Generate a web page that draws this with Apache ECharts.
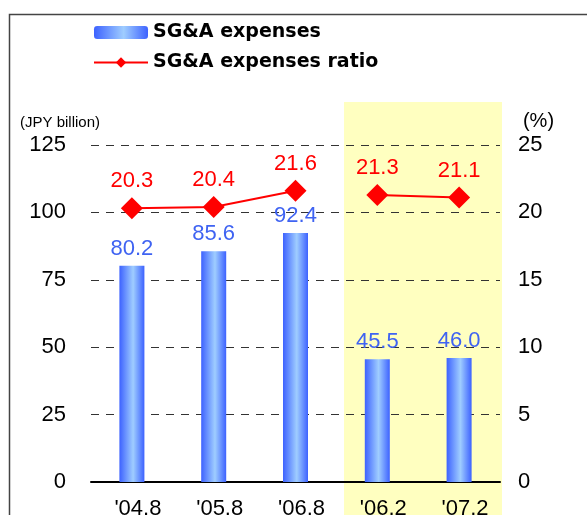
<!DOCTYPE html>
<html>
<head>
<meta charset="utf-8">
<script src="https://cdn.jsdelivr.net/npm/echarts@6/dist/echarts.min.js"></script>
<style>
  html, body { margin: 0; padding: 0; background: #fff; }
  #chart { width: 587px; height: 515px; }
</style>
</head>
<body>
<div id="chart"></div>
<script>
// 販管費・販管費率
var periods = ["'04.8", "'05.8", "'06.8", "'06.2", "'07.2"];
var sgaExpenses = [80.2, 85.6, 92.4, 45.5, 46.0];
var ratioAnnual = [20.3, 20.4, 21.6, "-", "-"];
var ratioHalf = ["-", "-", "-", 21.3, 21.1];
var leftTicks = [0, 125, 25];
var rightTicks = [0, 25, 5];

var narrow = "'Liberation Sans Narrow', 'Liberation Sans', sans-serif";

var chart = echarts.init(document.getElementById("chart"));

var barColor = new echarts.graphic.LinearGradient(0, 0, 1, 0, [
  { offset: 0, color: "#3d62ff" },
  { offset: 0.55, color: "#9fcdff" },
  { offset: 1, color: "#3d62ff" }
]);

var ratioLabel = {
  show: true,
  position: "top",
  distance: 5,
  color: "#ff0000",
  fontSize: 22,
  fontFamily: narrow,
  formatter: function (p) { return p.value.toFixed(1); }
};

var option = {
  backgroundColor: "#fff",
  animation: false,
  graphic: [
    {
      type: "rect",
      z: -10,
      shape: { x: 344, y: 102, width: 158, height: 420 },
      style: { fill: "#ffffc0" }
    },
    {
      type: "rect",
      z: -10,
      shape: { x: 9.5, y: 14.5, width: 620, height: 620 },
      style: { fill: "none", stroke: "#444", lineWidth: 1.5 }
    }
  ],
  legend: {
    orient: "vertical",
    left: 93,
    top: 23,
    padding: 0,
    itemWidth: 54,
    itemHeight: 13,
    itemGap: 11,
    textStyle: {
      fontSize: 19,
      fontWeight: "bold",
      color: "#000",
      fontFamily: "'DejaVu Sans', sans-serif"
    },
    data: ["SG&A expenses", "SG&A expenses ratio"]
  },
  grid: { left: 91, right: 87, top: 145, bottom: 33, outerBoundsMode: "none" },
  xAxis: {
    type: "category",
    data: periods,
    axisLine: { lineStyle: { color: "#000", width: 2 } },
    axisTick: { show: false },
    axisLabel: {
      color: "#000",
      fontSize: 22,
      fontFamily: narrow,
      margin: 16,
      padding: [0, 0, 0, 12]
    }
  },
  yAxis: [
    {
      type: "value",
      min: leftTicks[0],
      max: leftTicks[1],
      interval: leftTicks[2],
      name: "(JPY billion)",
      nameLocation: "end",
      nameGap: 15,
      nameTextStyle: {
        color: "#000",
        fontSize: 15,
        fontFamily: narrow,
        padding: [0, 62, 0, 0]
      },
      axisLine: { show: false },
      axisTick: { show: false },
      axisLabel: { color: "#000", fontSize: 22, fontFamily: narrow, margin: 25 },
      splitLine: { lineStyle: { color: "#333", type: [8, 7], width: 1 } }
    },
    {
      type: "value",
      min: rightTicks[0],
      max: rightTicks[1],
      interval: rightTicks[2],
      name: "(%)",
      nameLocation: "end",
      nameGap: 14,
      nameTextStyle: {
        color: "#000",
        fontSize: 20,
        fontFamily: narrow,
        padding: [0, 0, 0, 77]
      },
      axisLine: { show: false },
      axisTick: { show: false },
      axisLabel: { color: "#000", fontSize: 22, fontFamily: narrow, margin: 18 },
      splitLine: { show: false }
    }
  ],
  series: [
    {
      name: "SG&A expenses",
      type: "bar",
      data: sgaExpenses,
      barWidth: 25,
      itemStyle: { color: barColor },
      label: {
        show: true,
        position: "top",
        distance: 6,
        color: "#3f63f2",
        fontSize: 22,
        fontFamily: narrow,
        formatter: function (p) { return p.value.toFixed(1); }
      }
    },
    {
      name: "SG&A expenses ratio",
      type: "line",
      yAxisIndex: 1,
      data: ratioAnnual,
      symbol: "diamond",
      symbolSize: 22,
      itemStyle: { color: "#ff0000" },
      lineStyle: { color: "#ff0000", width: 2 },
      label: ratioLabel
    },
    {
      name: "SG&A expenses ratio",
      type: "line",
      yAxisIndex: 1,
      data: ratioHalf,
      symbol: "diamond",
      symbolSize: 22,
      itemStyle: { color: "#ff0000" },
      lineStyle: { color: "#ff0000", width: 2 },
      label: ratioLabel
    }
  ]
};

chart.setOption(option);
</script>
</body>
</html>
